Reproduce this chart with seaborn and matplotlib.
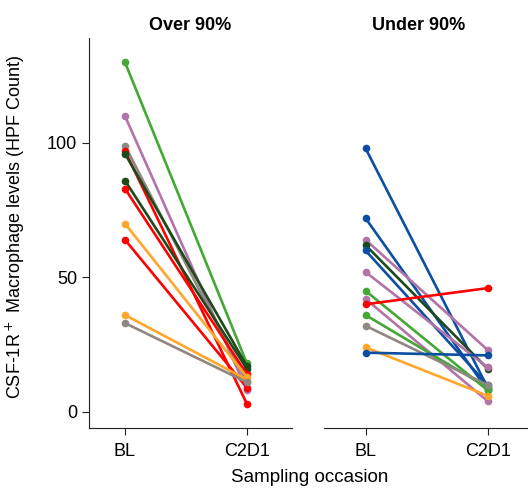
import matplotlib
matplotlib.use("Agg")
import matplotlib.pyplot as plt
import seaborn as sns
import pandas as pd

sns.set_style("ticks")
plt.rcParams['font.family'] = ['Liberation Sans', 'DejaVu Sans']
plt.rcParams['text.color'] = 'black'
plt.rcParams['xtick.color'] = 'black'
plt.rcParams['ytick.color'] = 'black'

occasions = ["BL", "C2D1"]

GREEN = "#45A735"
PURPLE = "#B173A8"
GREY = "#8E8782"
RED = "#FF0000"
DKGREEN = "#1C4A1A"
ORANGE = "#FFA62B"
BLUE = "#0B4EA2"

over_bl = [130, 110, 99, 97, 96, 86, 83, 70, 64, 36, 33]
over_c2d1 = [18, 8, 11, 3, 17, 16, 14, 13, 9, 12, 11]
over_colors = [GREEN, PURPLE, GREY, RED, DKGREEN, DKGREEN, RED, ORANGE, RED, ORANGE, GREY]

under_bl = [98, 72, 64, 62, 60, 52, 45, 42, 40, 36, 32, 24, 22]
under_c2d1 = [9, 8, 23, 16, 10, 16.5, 8, 4, 46, 9, 10, 6, 21]
under_colors = [BLUE, BLUE, PURPLE, DKGREEN, BLUE, PURPLE, GREEN, PURPLE, RED, GREEN, GREY, ORANGE, BLUE]


def long_df(bl, c2, prefix):
    rows = []
    for i, (a, b) in enumerate(zip(bl, c2)):
        rows.append({"id": f"{prefix}{i}", "pos": 0, "value": a})
        rows.append({"id": f"{prefix}{i}", "pos": 1, "value": b})
    return pd.DataFrame(rows)


fig = plt.figure(figsize=(5.28, 4.88), dpi=100)
axL = fig.add_axes([89 / 528, 1 - 428 / 488, 203 / 528, 390 / 488])
axR = fig.add_axes([324 / 528, 1 - 428 / 488, 204 / 528, 390 / 488])

for ax, bl, c2, cols, pre in [(axL, over_bl, over_c2d1, over_colors, "o"),
                              (axR, under_bl, under_c2d1, under_colors, "u")]:
    df = long_df(bl, c2, pre)
    pal = {f"{pre}{i}": c for i, c in enumerate(cols)}
    sns.lineplot(data=df, x="pos", y="value", hue="id", palette=pal,
                 marker="o", markersize=5.5, markeredgewidth=0, linewidth=1.9,
                 legend=False, ax=ax, sort=False)
    ax.set_ylim(-6, 139)
    ax.set_xticks([0, 1])
    ax.set_xticklabels(occasions, fontsize=13)
    ax.set_xlabel("")
    ax.set_ylabel("")
    for s in ["top", "right"]:
        ax.spines[s].set_visible(False)
    ax.spines["bottom"].set_color("#222222")
    ax.spines["left"].set_color("#222222")
    ax.tick_params(axis="x", length=5, color="#222222", pad=6)

axL.set_xlim(-0.295, 1.37)
axR.set_xlim(-0.34, 1.33)
axL.set_yticks([0, 50, 100])
axL.set_yticklabels(["0", "50", "100"], fontsize=13)
axL.tick_params(axis="y", length=5, color="#222222")
axR.spines["left"].set_visible(False)
axR.set_yticks([])

fig.text(190 / 528, 1 - 26 / 488, "Over 90%", ha="center", va="center",
         fontsize=13, fontweight="bold")
fig.text(419 / 528, 1 - 26 / 488, "Under 90%", ha="center", va="center",
         fontsize=13, fontweight="bold")
fig.text(310 / 528, 1 - 478 / 488, "Sampling occasion", ha="center", va="center",
         fontsize=13.5)
fig.text(15 / 528, 1 - 227 / 488, "CSF-1R$^+$ Macrophage levels (HPF Count)",
         ha="center", va="center", rotation=90, fontsize=13)

fig.savefig("out.png", dpi=100)
